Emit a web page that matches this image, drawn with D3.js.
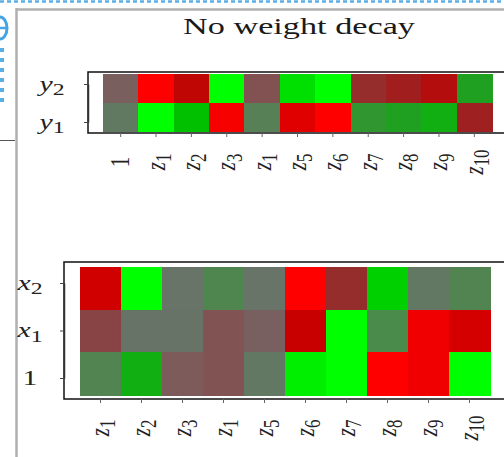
<!DOCTYPE html>
<html>
<head>
<meta charset="utf-8">
<script src="https://cdn.jsdelivr.net/npm/d3@7"></script>
<style>
  body { margin: 0; background: #fff; }
  svg { display: block; }
</style>
</head>
<body>
<script>
// heatmap values (-1 = full red, +1 = full green)
const topCols = ["1", "z1", "z2", "z3", "z1", "z5", "z6", "z7", "z8", "z9", "z10"];
const topRows = ["y2", "y1"];
const topValues = [
  [-0.15, -1, -0.75, 1, -0.25, 0.9, 1, -0.45, -0.54, -0.67, 0.61],
  [0.18, 1, 0.8, -0.97, 0.28, -0.89, -1, 0.53, 0.61, 0.7, -0.53]
];

const botCols = ["z1", "z2", "z3", "z1", "z5", "z6", "z7", "z8", "z9", "z10"];
const botRows = ["x2", "x1", "1"];
const botValues = [
  [-0.83, 1, 0.1, 0.35, 0.1, -1, -0.45, 0.85, 0.16, 0.33],
  [-0.32, 0.09, 0.09, -0.24, -0.14, -0.8, 1, 0.4, -0.945, -0.845],
  [0.33, 0.7, -0.19, -0.24, 0.16, 0.95, 1, -1, -0.945, 1]
];

const title = "No weight decay";

const width = 504, height = 457;
const serif = "'Liberation Serif', 'DejaVu Serif', serif";
const stretch = 1.35; // glyphs in the picture are wider than tall

// red - grey - green map
const color = d3.scaleLinear()
    .domain([-1, -0.8, -0.6, -0.4, -0.2, 0, 0.2, 0.4, 0.6, 0.8, 1])
    .range(["#ff0000", "#c80000", "#a81414", "#8f3535", "#7e5a5a", "#6e6e6e",
            "#5f7a5f", "#4a8a4a", "#229e22", "#00c000", "#00ff00"])
    .interpolate(d3.interpolateRgb);

const svg = d3.select("body").append("svg")
    .attr("width", width)
    .attr("height", height)
    .attr("viewBox", [0, 0, width, height])
    .attr("font-family", serif);

// page furniture around the figure
svg.append("line")
    .attr("x1", 0).attr("x2", width).attr("y1", 1.5).attr("y2", 1.5)
    .attr("stroke", "#5aaee6").attr("stroke-width", 2.5)
    .attr("stroke-dasharray", "4,3");
svg.append("ellipse")
    .attr("cx", 0).attr("cy", 28).attr("rx", 7).attr("ry", 11)
    .attr("fill", "none").attr("stroke", "#45a5e5").attr("stroke-width", 3);
svg.append("line")
    .attr("x1", -6).attr("x2", 6).attr("y1", 28).attr("y2", 28)
    .attr("stroke", "#45a5e5").attr("stroke-width", 2.5);
svg.append("line")
    .attr("x1", 2).attr("x2", 2).attr("y1", 48).attr("y2", 102)
    .attr("stroke", "#5aaee6").attr("stroke-width", 4)
    .attr("stroke-dasharray", "4,6");
svg.append("line")
    .attr("x1", 16.5).attr("x2", 16.5).attr("y1", 8).attr("y2", height)
    .attr("stroke", "#b0b0b0").attr("stroke-width", 2.5);
svg.append("line")
    .attr("x1", 16).attr("x2", width).attr("y1", 9.5).attr("y2", 9.5)
    .attr("stroke", "#b0b0b0").attr("stroke-width", 2.5);
svg.append("line")
    .attr("x1", 0).attr("x2", 15).attr("y1", 140.5).attr("y2", 140.5)
    .attr("stroke", "#555").attr("stroke-width", 1);

svg.append("text")
    .attr("x", 299).attr("y", 34)
    .attr("text-anchor", "middle")
    .attr("font-size", 22.5)
    .attr("fill", "#1a1a1a")
    .attr("textLength", 232)
    .attr("lengthAdjust", "spacingAndGlyphs")
    .text(title);

// "z10" -> italic z with subscript 10
function mathLabel(text, s) {
  text.text(null);
  const m = s.match(/^([a-z])(\d+)$/);
  if (m) {
    text.append("tspan").attr("font-style", "italic").text(m[1]);
    text.append("tspan").attr("font-size", "0.8em").attr("dy", "0.28em").text(m[2]);
  } else {
    text.text(s);
  }
}

function heatmap({rows, cols, values, box, cells, yTicks, yLabelX, xLabelY}) {
  const g = svg.append("g");

  const x = d3.scaleBand().domain(d3.range(cols.length)).range(cells.x);
  const y = d3.scaleBand().domain(d3.range(rows.length)).range(cells.y);
  const yt = d3.scalePoint().domain(d3.range(rows.length)).range(yTicks);

  g.append("g")
    .attr("shape-rendering", "crispEdges")
    .selectAll("g")
    .data(values)
    .join("g")
    .selectAll("rect")
    .data((row, r) => row.map((v, c) => ({r, c, v})))
    .join("rect")
      .attr("x", d => x(d.c))
      .attr("y", d => y(d.r))
      .attr("width", x.bandwidth() + 0.5)
      .attr("height", y.bandwidth() + 0.5)
      .attr("fill", d => color(d.v));

  g.append("rect")
      .attr("x", box.x).attr("y", box.y)
      .attr("width", box.w).attr("height", box.h)
      .attr("fill", "none")
      .attr("stroke", "#111")
      .attr("stroke-width", 1.5);

  // left axis
  g.append("g")
      .attr("transform", `translate(${box.x},0)`)
      .call(d3.axisLeft(yt).tickSize(4).tickSizeOuter(0).tickFormat(i => rows[i]))
      .attr("font-family", serif)
      .call(a => a.select(".domain").attr("stroke", "#333").attr("stroke-width", 1.5))
      .call(a => a.selectAll(".tick line").attr("stroke", "#444"))
      .call(a => a.selectAll(".tick text")
        .attr("x", null).attr("dy", null)
        .attr("text-anchor", "middle")
        .attr("font-size", 22)
        .attr("fill", "#222")
        .attr("transform", `translate(${yLabelX - box.x},6) scale(${stretch},1)`)
        .each(function(i) { mathLabel(d3.select(this), rows[i]); }));

  // bottom axis
  g.append("g")
      .attr("transform", `translate(0,${box.y + box.h})`)
      .call(d3.axisBottom(x).tickSize(4).tickSizeOuter(0).tickFormat(i => cols[i]))
      .attr("font-family", serif)
      .call(a => a.select(".domain").remove())
      .call(a => a.selectAll(".tick line").attr("stroke", "#666"))
      .call(a => a.selectAll(".tick text")
        .attr("y", null).attr("dy", "0.3em")
        .attr("text-anchor", "middle")
        .attr("font-size", 21)
        .attr("fill", "#222")
        .attr("transform", `translate(0,${xLabelY - box.y - box.h}) scale(${stretch},1) rotate(-90)`)
        .each(function(i) { mathLabel(d3.select(this), cols[i]); }));
}

heatmap({
  rows: topRows, cols: topCols, values: topValues,
  box: {x: 88, y: 72, w: 440, h: 61},
  cells: {x: [103, 492], y: [73.5, 131.7]},
  yTicks: [84, 122],
  yLabelX: 52,
  xLabelY: 162
});

heatmap({
  rows: botRows, cols: botCols, values: botValues,
  box: {x: 64, y: 262, w: 460, h: 137},
  cells: {x: [80, 490], y: [267, 395]},
  yTicks: [283, 378],
  yLabelX: 30,
  xLabelY: 428
});
</script>
</body>
</html>
